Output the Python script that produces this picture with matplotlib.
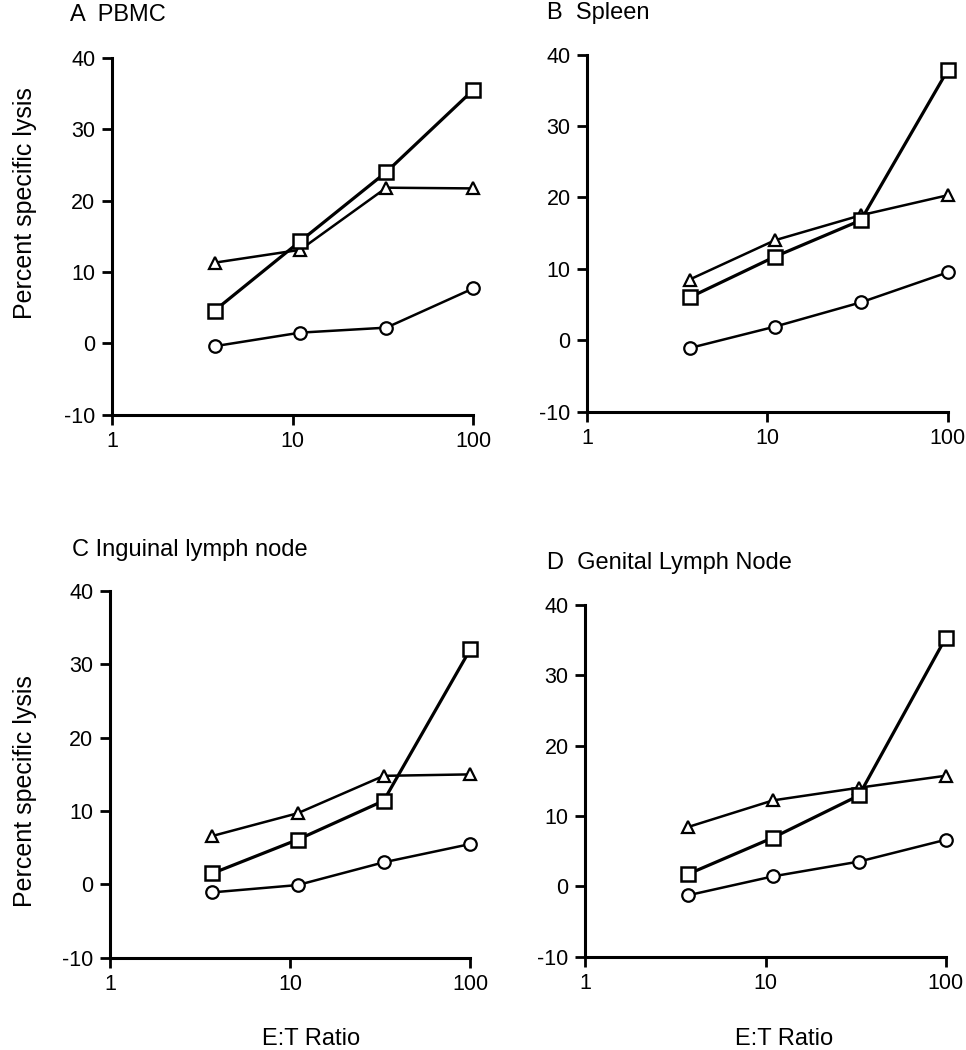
import numpy as np
import matplotlib
matplotlib.use('Agg')
from matplotlib import pyplot as plt

plt.rcParams['font.family'] = ['Liberation Sans', 'DejaVu Sans']
plt.rcParams['axes.unicode_minus'] = False

# E:T ratios
et_ratio = [3.7, 11, 33, 100]

titles = ['A  PBMC', 'B  Spleen', 'C Inguinal lymph node', 'D  Genital Lymph Node']

# values, one list per panel
square = [
    [4.6, 14.3, 24.0, 35.5],
    [6.0, 11.7, 16.8, 37.8],
    [1.5, 6.1, 11.4, 32.1],
    [1.7, 6.9, 12.9, 35.3],
]
triangle = [
    [11.3, 13.1, 21.8, 21.7],
    [8.5, 14.0, 17.5, 20.3],
    [6.6, 9.7, 14.8, 15.0],
    [8.4, 12.2, 14.0, 15.7],
]
circle = [
    [-0.4, 1.5, 2.2, 7.7],
    [-1.1, 1.9, 5.3, 9.5],
    [-1.1, -0.1, 3.0, 5.5],
    [-1.3, 1.4, 3.5, 6.6],
]

# axes boxes in figure fractions [left, bottom, width, height]
boxes = [
    [0.116, 0.605, 0.374, 0.340],
    [0.608, 0.608, 0.373, 0.340],
    [0.114, 0.088, 0.373, 0.349],
    [0.606, 0.089, 0.373, 0.335],
]
title_pos = [(0.0725, 0.9857), (0.566, 0.9876), (0.0745, 0.476), (0.566, 0.4638)]
ylabel_pos = {0: (-0.208, 0.594), 2: (-0.203, 0.454)}
xlabel_pos = {2: (0.558, -0.191), 3: (0.55, -0.202)}

fig = plt.figure(figsize=(9.66, 10.5), dpi=100)

for i in range(4):
    ax = fig.add_axes(boxes[i])
    ax.plot(et_ratio, triangle[i], '-', color='black', lw=1.8, marker='^',
            ms=8, mfc='white', mec='black', mew=1.6, clip_on=False, zorder=3)
    ax.plot(et_ratio, square[i], '-', color='black', lw=2.3, marker='s',
            ms=10.5, mfc='white', mec='black', mew=1.8, clip_on=False, zorder=4)
    ax.plot(et_ratio, circle[i], '-', color='black', lw=1.8, marker='o',
            ms=9, mfc='white', mec='black', mew=1.6, clip_on=False, zorder=3)

    ax.set_xscale('log')
    ax.set_xlim(1, 100)
    ax.set_ylim(-10, 40)
    ax.set_xticks([1, 10, 100])
    ax.set_xticklabels(['1', '10', '100'])
    ax.xaxis.set_minor_locator(matplotlib.ticker.NullLocator())
    ax.set_yticks([-10, 0, 10, 20, 30, 40])
    ax.set_yticklabels(['-10', '0', '10', '20', '30', '40'])

    for s in ['top', 'right']:
        ax.spines[s].set_visible(False)
    for s in ['left', 'bottom']:
        ax.spines[s].set_linewidth(2.2)
    ax.tick_params(direction='out', length=7, width=2.0, labelsize=15.5, pad=5)

    if i in (0, 2):
        ax.set_ylabel('Percent specific lysis', fontsize=18)
        ax.yaxis.set_label_coords(*ylabel_pos[i])
    if i in (2, 3):
        ax.set_xlabel('E:T Ratio', fontsize=17)
        ax.xaxis.set_label_coords(*xlabel_pos[i])

    fig.text(title_pos[i][0], title_pos[i][1], titles[i], fontsize=17,
             ha='left', va='center')

fig.savefig('out.png', dpi=100)
